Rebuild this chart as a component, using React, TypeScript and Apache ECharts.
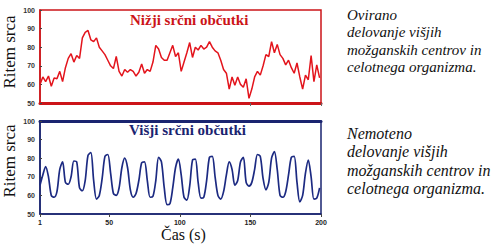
import React, { useEffect, useRef } from "react";
import * as echarts from "echarts";

const TIME = [
  1, 3, 5, 7, 9, 11, 13, 15, 17, 19, 21, 23, 25, 27, 29, 31, 33, 35, 37, 39,
  41, 43, 45, 47, 49, 51, 53, 55, 57, 59, 61, 63, 65, 67, 69, 71, 73, 75, 77, 79,
  81, 83, 85, 87, 89, 91, 93, 95, 97, 99, 101, 103, 105, 107, 109, 111, 113, 115, 117, 119,
  121, 123, 125, 127, 129, 131, 133, 135, 137, 139, 141, 143, 145, 147, 149, 151, 153, 155, 157, 159,
  161, 163, 165, 167, 169, 171, 173, 175, 177, 179, 181, 183, 185, 187, 189, 191, 193, 195, 197, 199,
];

const LOWER_HR = [
  60, 64, 61.5, 64.5, 59, 63.5, 63, 67, 61.5, 69, 74, 76.5, 72, 75.5, 74, 85, 88, 89, 84, 83,
  85, 80, 78, 76, 73, 70, 68.5, 75, 67, 64.5, 68, 66.5, 68, 67, 64.5, 66.5, 71, 66, 68, 67,
  72, 81, 79, 74.5, 73, 73, 77, 81, 75, 77, 67, 72, 77, 82.5, 74.5, 80, 78.5, 81, 79, 80,
  83, 80, 78, 77, 73, 68, 66, 57.5, 64, 59.5, 64, 60, 58.5, 63, 52.5, 57.5, 64, 67, 65, 70,
  76, 75, 83, 77, 81.5, 76, 74, 70.5, 73, 69, 66, 71.5, 64, 57.5, 65, 62.5, 75.5, 61.5, 70.5, 63.5,
];

const HIGHER_HR = [
  65.5, 71, 75.5, 70, 60, 59, 62, 74, 78, 67, 66, 70, 78.5, 78, 64, 62.5, 68, 81.5, 83, 68,
  58, 60, 69, 81, 82, 72, 61, 60, 64, 75, 80, 75, 63, 59, 61, 68, 77.5, 78, 68, 59,
  59.5, 68, 80.5, 78, 64, 55, 55.5, 64, 75, 79.5, 71, 59, 57.5, 65, 79, 79.5, 67, 58.5, 59, 68,
  80.5, 81, 70, 60, 58, 62, 71, 78, 74, 65.5, 68, 78, 80.5, 67, 65, 67, 74, 82, 81, 69,
  63, 67, 80, 83.5, 74, 60, 59, 62, 71, 80.5, 81, 67, 56.5, 60, 72, 79, 70, 58, 58.5, 64,
];

const X_TICKS = [1, 50, 100, 150, 200];
const TOP_X_TICKS = [150, 200];

const TOP_TITLE = "Nižji srčni občutki";
const BOTTOM_TITLE = "Višji srčni občutki";
const Y_NAME = "Ritem srca";
const X_NAME = "Čas (s)";
const TOP_NOTE = ["Ovirano", "delovanje višjih", "možganskih centrov in", "celotnega organizma."];
const BOTTOM_NOTE = ["Nemoteno", "delovanje višjih", "možganskih centrov in", "celotnega organizma."];

const RED = "#e3141c";
const RED_FRAME = "#cc1418";
const NAVY = "#1c2a82";
const NAVY_FRAME = "#1a2470";
const SERIF = "Liberation Serif";
const SANS = "Liberation Sans";

export default function App() {
  const ref = useRef<HTMLDivElement>(null);

  useEffect(() => {
    if (!ref.current) return;
    const chart = echarts.init(ref.current, null, { renderer: "svg" });

    const lowerData = TIME.map((t, i) => [t, LOWER_HR[i]]);
    const higherData = TIME.map((t, i) => [t, HIGHER_HR[i]]);

    const yAxisBase = (gridIndex: number, color: string) => ({
      type: "value",
      gridIndex,
      min: 50,
      max: 100,
      interval: 10,
      axisLine: { show: true, lineStyle: { color, width: 1.5 } },
      axisTick: { show: true, inside: true, length: 2, lineStyle: { color: "#444" } },
      axisLabel: {
        fontSize: 7,
        fontWeight: "bold",
        color: "#333",
        fontFamily: SANS,
        margin: 5,
      },
      splitLine: { show: false },
    });

    const mkTitle = (text: string, left: number, top: number, color: string, size: number, extra: any = {}) => ({
      text,
      left,
      top,
      padding: 0,
      textStyle: { color, fontSize: size, fontFamily: SERIF, fontWeight: "normal", ...extra },
    });

    chart.setOption({
      animation: false,
      backgroundColor: "#ffffff",
      title: [
        mkTitle(TOP_TITLE, 130, 12, RED_FRAME, 15, { fontWeight: "bold" }),
        mkTitle(BOTTOM_TITLE, 129, 122, NAVY_FRAME, 15, { fontWeight: "bold" }),
        mkTitle(X_NAME, 161, 226, "#111", 16),
        ...TOP_NOTE.map((l, i) => mkTitle(l, 347, 7 + i * 17.5, "#111", 15, { fontStyle: "italic" })),
        ...BOTTOM_NOTE.map((l, i) => mkTitle(l, 347, 125 + i * 18.5, "#111", 16, { fontStyle: "italic" })),
      ],
      grid: [
        { left: 40, top: 10, width: 281, height: 93, show: true, borderColor: RED_FRAME, borderWidth: 1.5, backgroundColor: "transparent" },
        { left: 40, top: 121, width: 281, height: 93, show: true, borderColor: NAVY_FRAME, borderWidth: 1.5, backgroundColor: "transparent" },
      ],
      xAxis: [
        {
          type: "value",
          gridIndex: 0,
          min: 1,
          max: 200,
          axisLine: { show: true, lineStyle: { color: RED_FRAME, width: 3 } },
          axisTick: { show: true, length: 3, customValues: TOP_X_TICKS, lineStyle: { color: "#666" } },
          axisLabel: { show: false },
          splitLine: { show: false },
        },
        {
          type: "value",
          gridIndex: 1,
          min: 1,
          max: 200,
          axisLine: { show: true, lineStyle: { color: NAVY_FRAME, width: 1.5 } },
          axisTick: { show: true, length: 3, customValues: X_TICKS, lineStyle: { color: "#444" } },
          axisLabel: {
            customValues: X_TICKS,
            fontSize: 7,
            fontWeight: "bold",
            color: "#222",
            fontFamily: SANS,
            margin: 5,
          },
          splitLine: { show: false },
        },
        {
          type: "value",
          gridIndex: 1,
          position: "top",
          min: 1,
          max: 200,
          axisLine: { show: true, lineStyle: { color: NAVY_FRAME, width: 3 } },
          axisTick: { show: false },
          axisLabel: { show: false },
          splitLine: { show: false },
        },
      ],
      yAxis: [yAxisBase(0, RED_FRAME), yAxisBase(1, NAVY_FRAME)],
      series: [
        {
          type: "line",
          xAxisIndex: 0,
          yAxisIndex: 0,
          data: lowerData,
          showSymbol: false,
          lineStyle: { color: RED, width: 1.5 },
        },
        {
          type: "line",
          xAxisIndex: 1,
          yAxisIndex: 1,
          data: higherData,
          showSymbol: false,
          smooth: 0.3,
          lineStyle: { color: NAVY, width: 1.7 },
        },
      ],
      graphic: [
        {
          type: "text",
          x: 9,
          y: 52,
          rotation: Math.PI / 2,
          style: { text: Y_NAME, fill: "#111", fontSize: 17, fontFamily: SERIF, align: "center", verticalAlign: "middle" },
        },
        {
          type: "text",
          x: 9,
          y: 161,
          rotation: Math.PI / 2,
          style: { text: Y_NAME, fill: "#111", fontSize: 17, fontFamily: SERIF, align: "center", verticalAlign: "middle" },
        },
      ],
    });

    return () => chart.dispose();
  }, []);

  return (
    <div
      ref={ref}
      style={{ position: "fixed", left: 0, top: 0, width: 496, height: 250 }}
    />
  );
}
